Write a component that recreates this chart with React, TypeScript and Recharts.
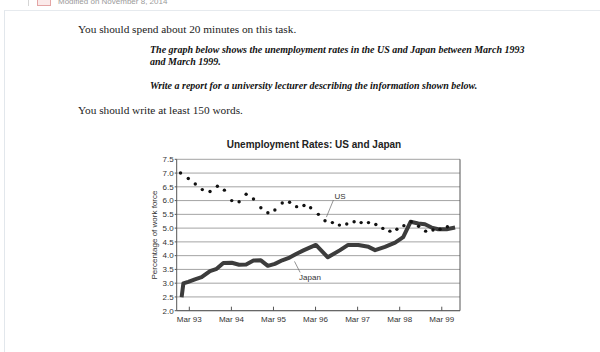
import React from "react";
import {
  ComposedChart, Line, XAxis, YAxis, CartesianGrid, ReferenceLine, ReferenceDot,
} from "recharts";

// months counted from Jan 1993
const xTickMonths = [2, 14, 26, 38, 50, 62, 74];
const xTickLabels = ["Mar 93", "Mar 94", "Mar 95", "Mar 96", "Mar 97", "Mar 98", "Mar 99"];
const yTicks = [2.0, 2.5, 3.0, 3.5, 4.0, 4.5, 5.0, 5.5, 6.0, 6.5, 7.0, 7.5];

const usMonths = [
  -0.5, 1.7, 3.7, 5.7, 7.9, 10.0, 12.0, 14.1, 16.2, 18.2, 20.3, 22.4, 24.4,
  26.4, 28.5, 30.6, 32.6, 34.7, 36.6, 38.8, 40.7, 42.8, 44.8, 46.9, 49.0,
  51.0, 53.1, 55.2, 57.2, 59.2, 61.2, 63.2, 65.3, 67.4, 69.4, 71.5, 73.5, 75.6,
];
const usRates = [
  7.0, 6.8, 6.6, 6.4, 6.33, 6.52, 6.38, 6.0, 5.96, 6.23, 6.06, 5.74, 5.56,
  5.66, 5.91, 5.94, 5.78, 5.82, 5.74, 5.5, 5.27, 5.2, 5.11, 5.15, 5.23,
  5.2, 5.2, 5.13, 4.99, 4.89, 4.96, 5.09, 5.23, 5.07, 4.89, 4.93, 4.96, 5.05,
];

const japanMonths = [
  -0.2, 0.3, 1.7, 3.6, 5.5, 7.9, 9.8, 11.7, 14.1, 16.2, 18.2, 20.3, 22.4,
  24.4, 26.4, 28.5, 30.6, 32.6, 34.7, 38.1, 41.5, 45.0, 47.3, 50.2, 53.1,
  55.0, 57.8, 60.7, 63.0, 65.1, 67.3, 69.2, 71.1, 73.0, 75.4, 77.8,
];
const japanRates = [
  2.49, 2.99, 3.05, 3.14, 3.22, 3.44, 3.52, 3.73, 3.74, 3.67, 3.68, 3.82, 3.83,
  3.63, 3.7, 3.83, 3.93, 4.07, 4.2, 4.39, 3.94, 4.2, 4.39, 4.39, 4.32,
  4.2, 4.32, 4.47, 4.67, 5.23, 5.17, 5.14, 5.02, 4.96, 4.96, 5.02,
];

const usData = usMonths.map((m, i) => ({ m, v: usRates[i] }));
const japanData = japanMonths.map((m, i) => ({ m, v: japanRates[i] }));

const SANS = "'Liberation Sans', Arial, sans-serif";
const SERIF = "'Liberation Serif', 'Times New Roman', serif";
const tickStyle = { fill: "#333", fontSize: 8, fontFamily: SANS };
const noteStyle = { fill: "#333", fontSize: 8, fontFamily: SANS };

const X_MAX = 79.2;

export default function App() {
  return (
    <div style={{ position: "absolute", left: 0, top: 0, width: 600, height: 352, background: "#fff", overflow: "hidden" }}>
      {/* page chrome */}
      <div style={{ position: "absolute", left: 28, top: 0, width: 1, height: 6, background: "#d5d5d5" }} />
      <div style={{ position: "absolute", left: 37, top: -3, width: 12, height: 7, border: "1px solid #e4a5a5", background: "#fbeaea" }} />
      <div style={{ position: "absolute", left: 58, top: -3, fontFamily: SANS, fontSize: 8, lineHeight: "9px", color: "#9a9a9a", whiteSpace: "nowrap" }}>
        Modified on November 8, 2014
      </div>
      <div style={{ position: "absolute", left: 4, top: 10, right: 0, bottom: 0, borderTop: "1px solid #e6eaee", borderLeft: "1px solid #e2e7ec" }} />

      {/* task text */}
      <div style={{ position: "absolute", left: 78, top: 22, fontFamily: SERIF, fontSize: 11.3, lineHeight: "14px", color: "#222", whiteSpace: "nowrap" }}>
        You should spend about 20 minutes on this task.
      </div>
      <div style={{ position: "absolute", left: 150, top: 44, fontFamily: SERIF, fontSize: 10, fontWeight: "bold", fontStyle: "italic", lineHeight: "11.5px", color: "#111", whiteSpace: "nowrap" }}>
        The graph below shows the unemployment rates in the US and Japan between March 1993
        <br />
        and March 1999.
      </div>
      <div style={{ position: "absolute", left: 150, top: 80, fontFamily: SERIF, fontSize: 10, fontWeight: "bold", fontStyle: "italic", lineHeight: "11.5px", color: "#111", whiteSpace: "nowrap" }}>
        Write a report for a university lecturer describing the information shown below.
      </div>
      <div style={{ position: "absolute", left: 78, top: 103, fontFamily: SERIF, fontSize: 11.3, lineHeight: "14px", color: "#222", whiteSpace: "nowrap" }}>
        You should write at least 150 words.
      </div>

      {/* chart title */}
      <div style={{ position: "absolute", left: 214, top: 139, width: 200, textAlign: "center", fontFamily: SANS, fontSize: 10, fontWeight: "bold", color: "#222", whiteSpace: "nowrap" }}>
        Unemployment Rates: US and Japan
      </div>

      <div style={{ position: "absolute", left: 0, top: 0 }}>
        <ComposedChart width={600} height={352} margin={{ top: 159.3, right: 140, bottom: 21.3, left: 146.7 }}>
          <CartesianGrid vertical={false} stroke="#8c8c8c" strokeWidth={0.8} />
          <XAxis
            type="number"
            dataKey="m"
            domain={[-1.6, X_MAX]}
            allowDataOverflow
            ticks={xTickMonths}
            interval={0}
            tickFormatter={(v) => xTickLabels[xTickMonths.indexOf(v)] ?? ""}
            height={20}
            tickSize={-4}
            tickMargin={10}
            tick={tickStyle}
            axisLine={{ stroke: "#555" }}
            tickLine={{ stroke: "#555" }}
          />
          <YAxis
            type="number"
            domain={[2, 7.5]}
            ticks={yTicks}
            interval={0}
            tickFormatter={(v) => v.toFixed(1)}
            width={30}
            tickSize={2}
            tickMargin={1}
            tick={tickStyle}
            axisLine={{ stroke: "#555" }}
            tickLine={{ stroke: "#555" }}
            label={{ value: "Percentage of work force", angle: -90, position: "center", dx: -8, style: noteStyle }}
          />
          <ReferenceLine x={X_MAX} stroke="#555" ifOverflow="extendDomain" />

          {/* annotations */}
          <ReferenceLine segment={[{ x: 43.1, y: 6.02 }, { x: 41.1, y: 5.4 }]} stroke="#666" strokeWidth={0.7} />
          <ReferenceLine segment={[{ x: 32.0, y: 3.79 }, { x: 33.6, y: 3.39 }]} stroke="#666" strokeWidth={0.7} />
          <ReferenceDot x={45.0} y={6.17} r={0} label={{ value: "US", position: "center", style: noteStyle }} />
          <ReferenceDot x={36.4} y={3.21} r={0} label={{ value: "Japan", position: "center", style: noteStyle }} />

          <Line
            data={japanData}
            dataKey="v"
            type="linear"
            stroke="#3c3c3c"
            strokeWidth={4}
            strokeLinejoin="round"
            strokeLinecap="butt"
            dot={false}
            isAnimationActive={false}
          />
          <Line
            data={usData}
            dataKey="v"
            type="linear"
            stroke="none"
            dot={{ r: 1.7, fill: "#111", stroke: "none" }}
            isAnimationActive={false}
          />
        </ComposedChart>
      </div>
    </div>
  );
}
